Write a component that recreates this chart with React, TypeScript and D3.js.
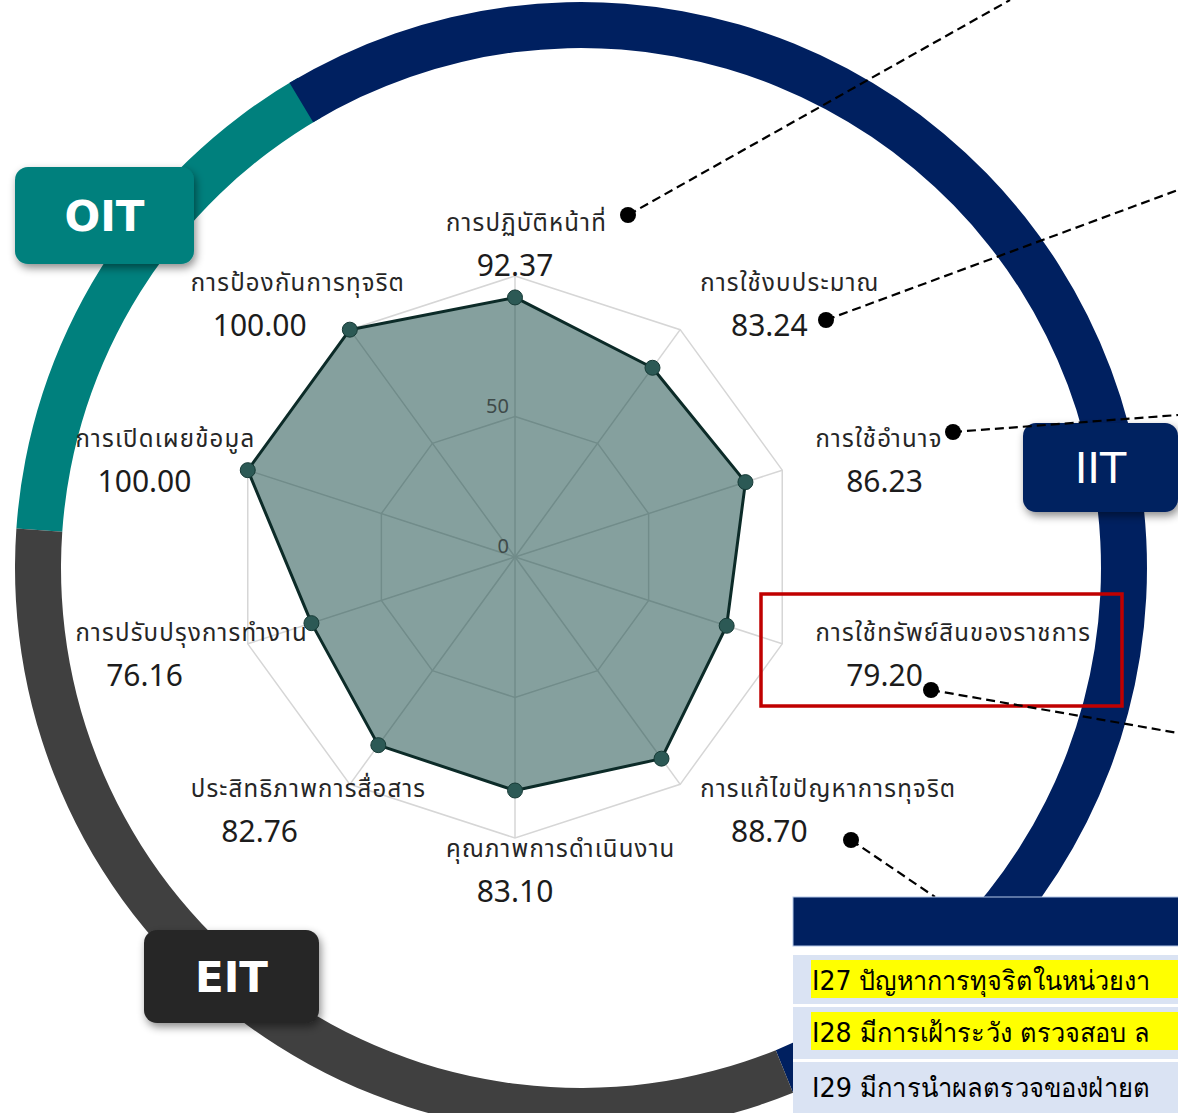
import React from 'react';
import * as d3 from 'd3';

// Radar axes (clockwise from the top) and their scores
const axisNames = [
  'การปฏิบัติหน้าที่',
  'การใช้งบประมาณ',
  'การใช้อำนาจ',
  'การใช้ทรัพย์สินของราชการ',
  'การแก้ไขปัญหาการทุจริต',
  'คุณภาพการดำเนินงาน',
  'ประสิทธิภาพการสื่อสาร',
  'การปรับปรุงการทำงาน',
  'การเปิดเผยข้อมูล',
  'การป้องกันการทุจริต',
];
const scores = [92.37, 83.24, 86.23, 79.2, 88.7, 83.1, 82.76, 76.16, 100.0, 100.0];
const gridLevels = [50, 100];
const scaleTickLabels = [0, 50];

// Outer ring groups (angles in degrees, clockwise from 12 o'clock)
const groupNames = ['OIT', 'IIT', 'EIT'];
const groupStartDeg = [274, -31, 158];
const groupEndDeg = [330, 158, 274];

// Question table rows
const tableRows = [
  'I27 ปัญหาการทุจริตในหน่วยงา',
  'I28 มีการเฝ้าระวัง ตรวจสอบ ล',
  'I29 มีการนำผลตรวจของฝ่ายต',
];
const tableHighlight = [true, true, false];

const W = 1178;
const H = 1113;
const cx = 515;
const cy = 557;
const R = 281;

const ringCx = 581;
const ringCy = 568;
const ringInner = 520;
const ringOuter = 566;

const groupColors: Record<string, string> = { OIT: '#00807d', IIT: '#002060', EIT: '#404040' };
const boxColors: Record<string, string> = { OIT: '#00807d', IIT: '#002060', EIT: '#262626' };

const labelFont = '"Noto Sans Thai", "Leelawadee UI", "Segoe UI", "Noto Sans", sans-serif';
const tableFont = 'Tahoma, "DejaVu Sans", sans-serif';

export default function App() {
  const n = axisNames.length;
  const r = d3.scaleLinear().domain([0, 100]).range([0, R]);
  const angle = (i: number) => (i * 2 * Math.PI) / n;

  const radial = d3
    .lineRadial<number>()
    .angle((_, i) => angle(i))
    .radius((d) => r(d))
    .curve(d3.curveLinearClosed);

  const arc = d3.arc<{ s: number; e: number }>()
    .innerRadius(ringInner)
    .outerRadius(ringOuter)
    .startAngle((d) => (d.s * Math.PI) / 180)
    .endAngle((d) => (d.e * Math.PI) / 180);

  // label blocks sit along each axis; name left-aligned, value centred
  const labelR = 317;
  const blockW = 138;
  const labels = axisNames.map((name, i) => {
    const a = angle(i);
    const s = Math.sin(a);
    const c = Math.cos(a);
    const valueY = cy + 32 - 313 * c;
    let left: number;
    if (Math.abs(s) < 0.01) left = cx - blockW / 2;
    else if (s > 0) left = cx + labelR * s - 1;
    else left = cx + labelR * s - blockW;
    return { name, value: scores[i], left, valueY, nameY: valueY - 45 };
  });

  // callout markers with dashed leaders
  const callouts = [
    { x: 628, y: 215, x2: 1010, y2: 0 },
    { x: 826, y: 320, x2: 1178, y2: 190 },
    { x: 953, y: 432, x2: 1178, y2: 415 },
    { x: 931, y: 690, x2: 1178, y2: 733 },
    { x: 851, y: 840, x2: 935, y2: 897 },
  ];

  const boxes = [
    { key: 'OIT', x: 15, y: 167, w: 179, h: 97, size: 42, weight: 700 },
    { key: 'IIT', x: 1023, y: 423, w: 155, h: 89, size: 43, weight: 400 },
    { key: 'EIT', x: 144, y: 930, w: 175, h: 93, size: 42, weight: 700 },
  ];

  const rowTops = [955, 1007, 1062];
  const rowHeights = [49, 52, 52];

  return (
    <svg
      width={W}
      height={H}
      viewBox={`0 0 ${W} ${H}`}
      style={{ position: 'absolute', left: 0, top: 0, background: '#fff' }}
    >
      <defs>
        <filter id="boxShadow" x="-20%" y="-20%" width="140%" height="150%">
          <feDropShadow dx="2" dy="4" stdDeviation="4" floodColor="#000" floodOpacity="0.45" />
        </filter>
      </defs>

      {/* outer ring */}
      <g transform={`translate(${ringCx},${ringCy})`}>
        {groupNames.map((g, i) => (
          <path key={g} d={arc({ s: groupStartDeg[i], e: groupEndDeg[i] }) || ''} fill={groupColors[g]} />
        ))}
      </g>

      {/* radar grid */}
      <g transform={`translate(${cx},${cy})`}>
        {gridLevels.map((lv) => (
          <path
            key={lv}
            d={radial(axisNames.map(() => lv)) || ''}
            fill="none"
            stroke="#d6d6d6"
            strokeWidth={1.5}
          />
        ))}
        {axisNames.map((_, i) => (
          <line
            key={i}
            x1={0}
            y1={0}
            x2={r(100) * Math.sin(angle(i))}
            y2={-r(100) * Math.cos(angle(i))}
            stroke="#d6d6d6"
            strokeWidth={1.5}
          />
        ))}

        {/* data area */}
        <path d={radial(scores) || ''} fill="rgb(11,65,61)" fillOpacity={0.5} stroke="none" />
        {scaleTickLabels.map((t) => (
          <text
            key={t}
            x={-6}
            y={-r(t) - 4}
            textAnchor="end"
            fontFamily={labelFont}
            fontSize={20}
            fill="#3e4a49"
          >
            {t}
          </text>
        ))}
        <path d={radial(scores) || ''} fill="none" stroke="#0c2b28" strokeWidth={3} strokeLinejoin="round" />
        {scores.map((v, i) => (
          <circle
            key={i}
            cx={r(v) * Math.sin(angle(i))}
            cy={-r(v) * Math.cos(angle(i))}
            r={7.5}
            fill="#2c5955"
            stroke="#163a36"
            strokeWidth={1}
          />
        ))}
      </g>

      {/* axis labels */}
      {labels.map((l, i) => (
        <g key={i} fontFamily={labelFont}>
          <text x={l.left} y={l.nameY} fontSize={24} letterSpacing={1.2} fill="#262626">
            {l.name}
          </text>
          <text x={l.left + blockW / 2} y={l.valueY} fontSize={30} fill="#1c1c1c" textAnchor="middle">
            {d3.format('.2f')(l.value)}
          </text>
        </g>
      ))}

      {/* highlight frame */}
      <rect x={761} y={594} width={361} height={112} fill="none" stroke="#c00000" strokeWidth={3.5} />

      {/* group boxes */}
      {boxes.map((b) => (
        <g key={b.key}>
          <rect
            x={b.x}
            y={b.y}
            width={b.w}
            height={b.h}
            rx={13}
            fill={boxColors[b.key]}
            filter="url(#boxShadow)"
          />
          <text
            x={b.x + b.w / 2}
            y={b.y + b.h / 2}
            dy="0.36em"
            textAnchor="middle"
            fontFamily='"DejaVu Sans", Verdana, sans-serif'
            fontWeight={b.weight}
            fontSize={b.size}
            fill="#fff"
          >
            {b.key}
          </text>
        </g>
      ))}

      {/* callouts */}
      {callouts.map((c, i) => (
        <g key={i}>
          <line x1={c.x} y1={c.y} x2={c.x2} y2={c.y2} stroke="#000" strokeWidth={2.2} strokeDasharray="9 5" />
          <circle cx={c.x} cy={c.y} r={8} fill="#000" />
        </g>
      ))}

      {/* question table */}
      <rect x={793} y={946} width={400} height={H - 946} fill="#fff" />
      <rect x={793} y={897} width={400} height={49} fill="#002060" stroke="#b4c7e7" strokeWidth={1} />
      {tableRows.map((t, i) => (
        <g key={i}>
          <rect x={793} y={rowTops[i]} width={400} height={rowHeights[i]} fill="#dae3f3" />
          {tableHighlight[i] && (
            <rect x={811} y={rowTops[i] + 5} width={400} height={38} fill="#ffff00" />
          )}
          <text
            x={812}
            y={rowTops[i] + 35}
            fontFamily={tableFont}
            fontSize={27}
            fill="#000"
            textLength={338}
            lengthAdjust="spacingAndGlyphs"
          >
            {t}
          </text>
        </g>
      ))}
    </svg>
  );
}
